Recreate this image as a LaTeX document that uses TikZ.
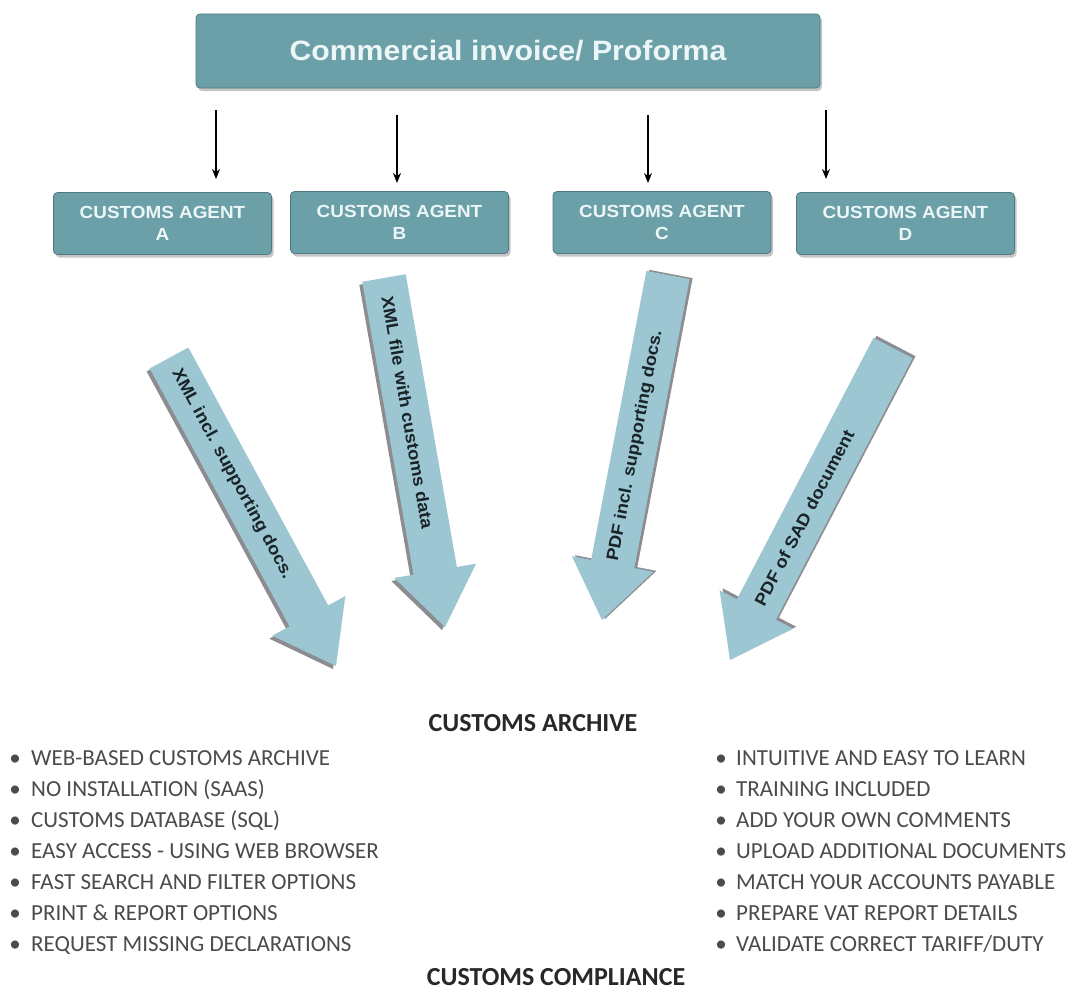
\documentclass[tikz,border=0pt]{standalone}
\usepackage{fontspec}
\setmainfont{Liberation Sans}
\newfontfamily\wideb{Liberation Sans}[FakeStretch=1.08]
\newfontfamily\calfont{Carlito}
\usetikzlibrary{calc,shadows,arrows.meta}

\definecolor{boxfill}{RGB}{108,160,168}
\definecolor{boxedge}{RGB}{80,122,130}
\definecolor{boxtext}{RGB}{236,246,246}
\definecolor{arrfill}{RGB}{156,198,209}
\definecolor{arrshade}{RGB}{140,140,145}
\definecolor{arrtext}{RGB}{25,35,40}
\definecolor{listtext}{RGB}{75,75,75}
\definecolor{titletext}{RGB}{40,40,40}

\newcommand\bigarrow[6]{% #1 tail, #2 tip, #3 shadow shift, #4 label, #5 name, #6 label pos
  \coordinate (#5t) at #1;
  \coordinate (#5h) at #2;
  \coordinate (#5n) at ($(#5h)!57pt!(#5t)$);
  \coordinate (#5a) at ($(#5t)!22pt!90:(#5h)$);
  \coordinate (#5b) at ($(#5n)!22pt!90:(#5h)$);
  \coordinate (#5c) at ($(#5n)!41.5pt!90:(#5h)$);
  \coordinate (#5d) at ($(#5n)!41.5pt!-90:(#5h)$);
  \coordinate (#5e) at ($(#5n)!22pt!-90:(#5h)$);
  \coordinate (#5f) at ($(#5t)!22pt!-90:(#5h)$);
  \fill[arrshade] ($(#5a)+#3$) -- ($(#5b)+#3$) -- ($(#5c)+#3$) -- ($(#5h)+#3$)
     -- ($(#5d)+#3$) -- ($(#5e)+#3$) -- ($(#5f)+#3$) -- cycle;
  \fill[arrfill] (#5a) -- (#5b) -- (#5c) -- (#5h) -- (#5d) -- (#5e) -- (#5f) -- cycle;
  \path (#5t) -- (#5n) node[arrlabel, pos=#6, sloped] {#4};
}

\begin{document}
\begin{tikzpicture}[x=1pt,y=-1pt,
  tealbox/.style={draw=boxedge, line width=0.8pt, fill=boxfill, rounded corners=4pt,
    drop shadow={shadow xshift=2pt,shadow yshift=-3pt,opacity=0.45},
    text=boxtext, align=center, inner sep=0pt},
  agentbox/.style={tealbox, minimum width=218pt, minimum height=62pt,
    font=\wideb\bfseries\fontsize{17.5}{22}\selectfont},
  arrlabel/.style={inner sep=0pt, text=arrtext, font=\wideb\bfseries\fontsize{17}{20}\selectfont},
  smallarrow/.style={-{Stealth[length=10pt,width=8pt]}, line width=1.4pt, black},
  listline/.style={anchor=base west, inner sep=0pt, text=listtext,
    font=\calfont\fontsize{23}{26}\selectfont},
  titleline/.style={anchor=base, inner sep=0pt, text=titletext,
    font=\calfont\bfseries\fontsize{26}{28}\selectfont}
]
\fill[white] (0,0) rectangle (1073,990);
\useasboundingbox (0,0) rectangle (1073,990);

% top box
\node[tealbox, minimum width=624pt, minimum height=74pt,
  font=\wideb\bfseries\fontsize{28}{32}\selectfont] (inv) at (508,51) {Commercial invoice/ Proforma};

% agent boxes
\node[agentbox] (agA) at (162.5,223.5) {CUSTOMS AGENT\\A};
\node[agentbox] (agB) at (399.5,222.5) {CUSTOMS AGENT\\B};
\node[agentbox] (agC) at (662,222.5) {CUSTOMS AGENT\\C};
\node[agentbox] (agD) at (905.5,223.5) {CUSTOMS AGENT\\D};

% small arrows
\coordinate (s1) at (216,110); \coordinate (e1) at (216,179);
\coordinate (s2) at (397,115); \coordinate (e2) at (397,183);
\coordinate (s3) at (648,115); \coordinate (e3) at (648,183);
\coordinate (s4) at (826,110); \coordinate (e4) at (826,179);
\draw[smallarrow] (s1) -- (e1);
\draw[smallarrow] (s2) -- (e2);
\draw[smallarrow] (s3) -- (e3);
\draw[smallarrow] (s4) -- (e4);

% big arrows
\bigarrow{(169,358)}{(336,666)}{(-3,3)}{XML incl. supporting docs.}{aa}{0.45}
\bigarrow{(384,278)}{(445,627)}{(-3,3)}{XML file with customs data}{ab}{0.46}
\bigarrow{(668,275)}{(602,620)}{(3,-1)}{PDF incl. supporting docs.}{ac}{0.59}
\bigarrow{(893,348)}{(730,660)}{(3,-2)}{PDF of SAD document}{ad}{0.65}

% titles
\node[titleline] (t1) at (533,731) {CUSTOMS ARCHIVE};
\node[titleline] (t2) at (556,985) {CUSTOMS COMPLIANCE};

% left list
\foreach \txt [count=\i from 0] in {WEB-BASED CUSTOMS ARCHIVE, NO INSTALLATION (SAAS),
  CUSTOMS DATABASE (SQL), EASY ACCESS - USING WEB BROWSER, FAST SEARCH AND FILTER OPTIONS,
  PRINT \& REPORT OPTIONS, REQUEST MISSING DECLARATIONS}
  \node[listline] (l\i) at (-1,765+31*\i) {\makebox[32pt][c]{\textbullet}\txt};

% right list
\foreach \txt [count=\i from 0] in {INTUITIVE AND EASY TO LEARN, TRAINING INCLUDED,
  ADD YOUR OWN COMMENTS, UPLOAD ADDITIONAL DOCUMENTS, MATCH YOUR ACCOUNTS PAYABLE,
  PREPARE VAT REPORT DETAILS, VALIDATE CORRECT TARIFF/DUTY}
  \node[listline] (r\i) at (706,765+31*\i) {\makebox[30pt][c]{\textbullet}\txt};
\end{tikzpicture}
\end{document}
